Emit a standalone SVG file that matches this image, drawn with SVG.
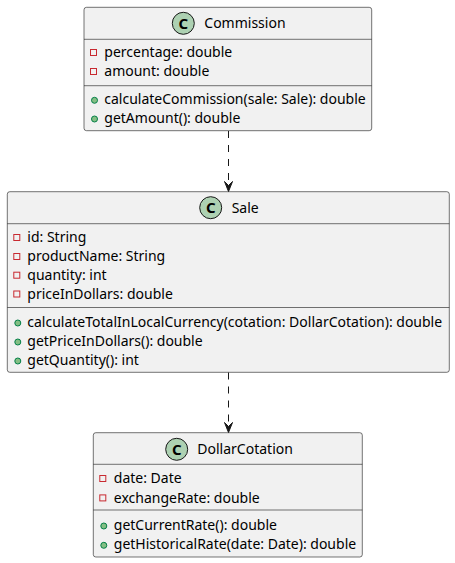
<svg xmlns="http://www.w3.org/2000/svg" width="455" height="563" viewBox="0 0 455 563">
<style>
.box{fill:#F1F1F1;stroke:#181818;stroke-width:0.6}
.sep{stroke:#181818;stroke-width:0.6}
.spot{fill:#ADD1B2;stroke:#181818;stroke-width:1}
.spotc{font-family:"Noto Sans","DejaVu Sans",sans-serif;font-size:15px;font-weight:bold;fill:#000;text-anchor:middle}
.name{font-family:"Noto Sans","DejaVu Sans",sans-serif;font-size:14px;fill:#000}
.mem{font-family:"Noto Sans","DejaVu Sans",sans-serif;font-size:14px;fill:#000}
.priv{fill:none;stroke:#C82930;stroke-width:1}
.pub{fill:#84BE84;stroke:#038048;stroke-width:1}
.link{stroke:#181818;stroke-width:1;stroke-dasharray:7,7;fill:none}
.head{fill:#181818;stroke:#181818;stroke-width:1}
</style>
<rect width="455" height="563" fill="#FFFFFF"/>
<g id="Commission">
<rect class="box" x="84" y="7.3" width="287.7" height="123.4" rx="2.5"/>
<circle class="spot" cx="183.3" cy="23.3" r="11"/>
<text class="spotc" x="183.3" y="28.7">C</text>
<text class="name" x="204.3" y="28.3">Commission</text>
<line class="sep" x1="84" y1="39.3" x2="371.7" y2="39.3"/>
<rect class="priv" x="90.5" y="49.5" width="6" height="6"/>
<text class="mem" x="104.3" y="57.3">percentage: double</text>
<rect class="priv" x="90.5" y="68.5" width="6" height="6"/>
<text class="mem" x="104.3" y="76.3">amount: double</text>
<line class="sep" x1="84" y1="85.7" x2="371.7" y2="85.7"/>
<circle class="pub" cx="94.5" cy="100.3" r="3"/>
<text class="mem" x="104.3" y="104.3">calculateCommission(sale: Sale): double</text>
<circle class="pub" cx="94.5" cy="119" r="3"/>
<text class="mem" x="104.3" y="123">getAmount(): double</text>
</g>
<g id="Sale">
<rect class="box" x="7.3" y="191.7" width="442" height="180.6" rx="2.5"/>
<circle class="spot" cx="210.7" cy="207.7" r="11"/>
<text class="spotc" x="210.7" y="213.1">C</text>
<text class="name" x="231.7" y="212.7">Sale</text>
<line class="sep" x1="7.3" y1="223.7" x2="449.3" y2="223.7"/>
<rect class="priv" x="13.8" y="234.5" width="6" height="6"/>
<text class="mem" x="27.3" y="242.3">id: String</text>
<rect class="priv" x="13.8" y="253.5" width="6" height="6"/>
<text class="mem" x="27.3" y="261.3">productName: String</text>
<rect class="priv" x="13.8" y="272.2" width="6" height="6"/>
<text class="mem" x="27.3" y="280">quantity: int</text>
<rect class="priv" x="13.8" y="291" width="6" height="6"/>
<text class="mem" x="27.3" y="298.8">priceInDollars: double</text>
<line class="sep" x1="7.3" y1="307.5" x2="449.3" y2="307.5"/>
<circle class="pub" cx="17.8" cy="323" r="3"/>
<text class="mem" x="27.3" y="327">calculateTotalInLocalCurrency(cotation: DollarCotation): double</text>
<circle class="pub" cx="17.8" cy="342" r="3"/>
<text class="mem" x="27.3" y="346">getPriceInDollars(): double</text>
<circle class="pub" cx="17.8" cy="361" r="3"/>
<text class="mem" x="27.3" y="365">getQuantity(): int</text>
</g>
<g id="DollarCotation">
<rect class="box" x="93.3" y="432.7" width="269" height="124.3" rx="2.5"/>
<circle class="spot" cx="176.7" cy="449.3" r="11"/>
<text class="spotc" x="176.7" y="454.7">C</text>
<text class="name" x="197.3" y="454.3">DollarCotation</text>
<line class="sep" x1="93.3" y1="464.3" x2="362.3" y2="464.3"/>
<rect class="priv" x="99.8" y="475.5" width="6" height="6"/>
<text class="mem" x="113.8" y="483.3">date: Date</text>
<rect class="priv" x="99.8" y="494.9" width="6" height="6"/>
<text class="mem" x="113.8" y="502.7">exchangeRate: double</text>
<line class="sep" x1="93.3" y1="510" x2="362.3" y2="510"/>
<circle class="pub" cx="103.8" cy="526" r="3"/>
<text class="mem" x="113.8" y="530">getCurrentRate(): double</text>
<circle class="pub" cx="103.8" cy="545.3" r="3"/>
<text class="mem" x="113.8" y="549.3">getHistoricalRate(date: Date): double</text>
</g>
<g id="connectors">
<path class="link" d="M228.5,131 L228.5,185"/>
<polygon class="head" points="228.5,191.5 224.5,181.5 228.5,185.5 232.5,181.5"/>
<path class="link" d="M228.5,372.5 L228.5,426"/>
<polygon class="head" points="228.5,432.5 224.5,422.5 228.5,426.5 232.5,422.5"/>
</g>
</svg>
